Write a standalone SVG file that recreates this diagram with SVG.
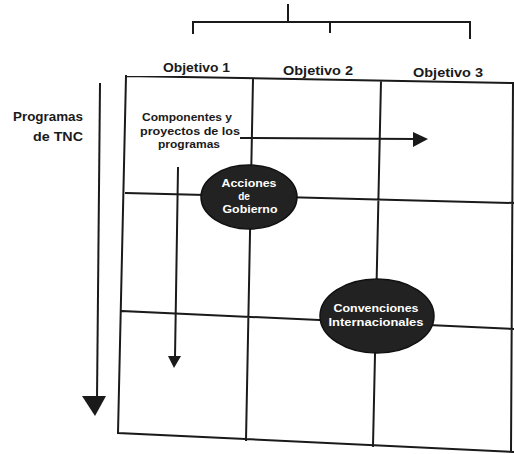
<svg xmlns="http://www.w3.org/2000/svg" width="514" height="454" viewBox="0 0 514 454">
<defs>
<style>
.ln{stroke:#1a1a1a;stroke-width:2;fill:none;stroke-linecap:square}
.lbl{font-family:"Liberation Sans",Arial,sans-serif;font-weight:bold;fill:#1a1a1a}
.wt{font-family:"Liberation Sans",Arial,sans-serif;font-weight:bold;fill:#ffffff;font-size:10px;text-anchor:middle}
.el{fill:#222222;stroke:#111111;stroke-width:1.5}
</style>
</defs>
<rect width="514" height="454" fill="#ffffff"/>
<g id="bracket">
<path class="ln" d="M288,5 L288,22 M193,22 L470,22 M193,22 L193,33 M330,22 L330,32 M470,22 L470,38"/>
</g>
<g id="grid">
<path class="ln" d="M126,76 L514,83 M126,76 L118,433 L514,452 M253,79 L246,440 M381,81 L373,446 M513,83 L511,452 M126,193 L514,203 M122,311 L514,329"/>
</g>
<g id="headers">
<text class="lbl" x="163" y="72" font-size="12.5" textLength="67" lengthAdjust="spacingAndGlyphs">Objetivo 1</text>
<text class="lbl" x="283" y="75" font-size="12.5" textLength="70" lengthAdjust="spacingAndGlyphs">Objetivo 2</text>
<text class="lbl" x="413" y="77" font-size="12.5" textLength="70" lengthAdjust="spacingAndGlyphs">Objetivo 3</text>
</g>
<g id="programas">
<text class="lbl" x="13" y="121" font-size="12" textLength="70" lengthAdjust="spacingAndGlyphs">Programas</text>
<text class="lbl" x="33" y="141" font-size="12" textLength="50" lengthAdjust="spacingAndGlyphs">de TNC</text>
</g>
<g id="componentes">
<text class="lbl" x="142" y="121" font-size="10.5" textLength="90" lengthAdjust="spacingAndGlyphs">Componentes y</text>
<text class="lbl" x="140" y="135" font-size="10.5" textLength="100" lengthAdjust="spacingAndGlyphs">proyectos de los</text>
<text class="lbl" x="158" y="148" font-size="10.5" textLength="62" lengthAdjust="spacingAndGlyphs">programas</text>
</g>
<g id="connectors">
<path class="ln" d="M100,84 L97,400"/>
<path d="M82,396 L106,396 L95,416 Z" fill="#1a1a1a"/>
<path class="ln" d="M178,168 L175,358"/>
<path d="M168,356 L181,356 L174,368 Z" fill="#1a1a1a"/>
<path class="ln" d="M241,138 L415,139"/>
<path d="M413,132 L428,139 L413,147 Z" fill="#1a1a1a"/>
</g>
<g id="acciones">
<ellipse class="el" cx="249" cy="197" rx="48" ry="32"/>
<text class="wt" x="249" y="187" textLength="55" lengthAdjust="spacingAndGlyphs">Acciones</text>
<text class="wt" x="244" y="200">de</text>
<text class="wt" x="250" y="213" textLength="55" lengthAdjust="spacingAndGlyphs">Gobierno</text>
</g>
<g id="convenciones">
<ellipse class="el" cx="377" cy="316" rx="57" ry="37"/>
<text class="wt" x="376" y="312" textLength="85" lengthAdjust="spacingAndGlyphs">Convenciones</text>
<text class="wt" x="376" y="326" textLength="95" lengthAdjust="spacingAndGlyphs">Internacionales</text>
</g>
</svg>
